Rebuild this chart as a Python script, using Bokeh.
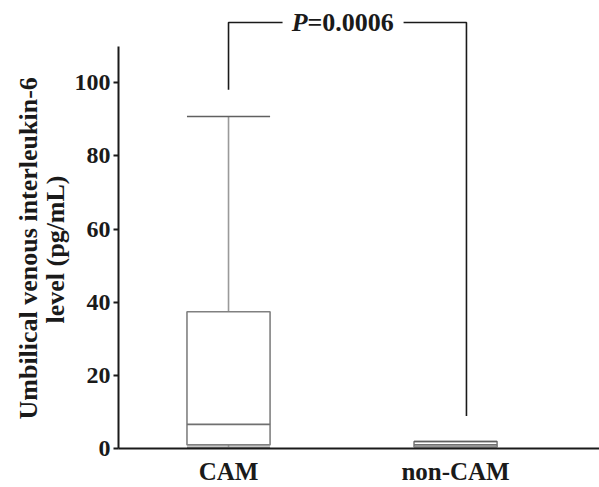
import math
from bokeh.plotting import figure
from bokeh.models import Range1d, FixedTicker, Title, ColumnDataSource
from bokeh.core.properties import value
from bokeh.embed import file_html
from bokeh.resources import INLINE

# ---- data ----
categories = ["CAM", "non-CAM"]
cat_pos = [1, 2]
whisker_low = [0.3, 0.4]
q1 = [1.0, 0.4]
median = [6.6, 1.0]
q3 = [37.4, 1.9]
whisker_high = [90.8, 1.9]
y_ticks = [0, 20, 40, 60, 80, 100]
p_label = ["P", "=0.0006"]
y_label_lines = ["Umbilical venous interleukin-6", "level (pg/mL)"]

FONT = "Liberation Serif"

p = figure(width=599, height=487, output_backend="svg", toolbar_location=None,
           x_range=Range1d(0.5154, 2.634), y_range=Range1d(0, 122.5),
           min_border_left=118, min_border_right=0, min_border_top=0,
           min_border_bottom=35)
p.outline_line_color = None
p.grid.visible = False
p.background_fill_color = "white"
p.border_fill_color = "white"

half = 0.183
src = ColumnDataSource(dict(x=cat_pos, lo=whisker_low, q1=q1, med=median,
                            q3=q3, hi=whisker_high,
                            left=[c - half for c in cat_pos],
                            right=[c + half for c in cat_pos]))

# whiskers
p.segment(x0="x", y0="q3", x1="x", y1="hi", source=src, line_color="#9a9a9a", line_width=1.6)
p.segment(x0="x", y0="lo", x1="x", y1="q1", source=src, line_color="#9a9a9a", line_width=1.6)
# boxes
p.quad(left="left", right="right", bottom="q1", top="q3", source=src,
       fill_color="white", line_color="#808080", line_width=1.6)
# median
p.segment(x0="left", y0="med", x1="right", y1="med", source=src, line_color="#707070", line_width=1.6)
# caps
p.segment(x0="left", y0="hi", x1="right", y1="hi", source=src, line_color="#606060", line_width=1.6)
p.segment(x0="left", y0="lo", x1="right", y1="lo", source=src, line_color="#909090", line_width=1.6)

# significance bracket
top_y = 116.5
left_x = cat_pos[0]
right_x = cat_pos[1] + 0.048
gap_l = cat_pos[0] + 0.238
gap_r = cat_pos[0] + 0.771
p.line(x=[left_x, left_x, gap_l], y=[98.1, top_y, top_y], line_color="#1a1a1a", line_width=1.6)
p.line(x=[gap_r, right_x, right_x], y=[top_y, top_y, 8.9], line_color="#1a1a1a", line_width=1.6)
anchor_x = cat_pos[0] + 0.348
p.text(x=[anchor_x], y=[top_y], text=[p_label[0]], text_font=value(FONT),
       text_font_style="bold italic", text_font_size="26px", text_align="right",
       text_baseline="middle", text_color="#1a1a1a")
p.text(x=[anchor_x], y=[top_y], text=[p_label[1]], text_font=value(FONT),
       text_font_style="bold", text_font_size="26px", text_align="left",
       text_baseline="middle", text_color="#1a1a1a")

# axes
ya = p.yaxis[0]
ya.ticker = FixedTicker(ticks=y_ticks)
ya.bounds = (0, 110)
ya.axis_line_width = 2
ya.axis_line_color = "#1a1a1a"
ya.major_tick_line_color = "#1a1a1a"
ya.major_tick_line_width = 2
ya.major_tick_out = 5
ya.major_tick_in = 0
ya.minor_tick_line_color = None
ya.major_label_text_font = FONT
ya.major_label_text_font_style = "bold"
ya.major_label_text_font_size = "24px"
ya.major_label_text_color = "#1a1a1a"
ya.major_label_standoff = 3

xa = p.xaxis[0]
xa.ticker = FixedTicker(ticks=cat_pos)
xa.major_label_overrides = {c: n for c, n in zip(cat_pos, categories)}
xa.axis_line_width = 2
xa.axis_line_color = "#1a1a1a"
xa.major_tick_line_color = None
xa.minor_tick_line_color = None
xa.major_tick_out = 0
xa.major_tick_in = 0
xa.major_label_text_font = FONT
xa.major_label_text_font_style = "bold"
xa.major_label_text_font_size = "25px"
xa.major_label_text_color = "#1a1a1a"
xa.major_label_standoff = 9

# y-axis title as two rotated lines (nearest line added first)
p.add_layout(Title(text=y_label_lines[1], align="left", offset=125, standoff=4,
                   text_font=FONT, text_font_style="bold", text_font_size="26px",
                   text_color="#1a1a1a"), "left")
p.add_layout(Title(text=y_label_lines[0], align="left", offset=29, standoff=-12,
                   text_font=FONT, text_font_style="bold", text_font_size="26px",
                   text_color="#1a1a1a"), "left")

open("out.html", "w").write(file_html(p, INLINE))
